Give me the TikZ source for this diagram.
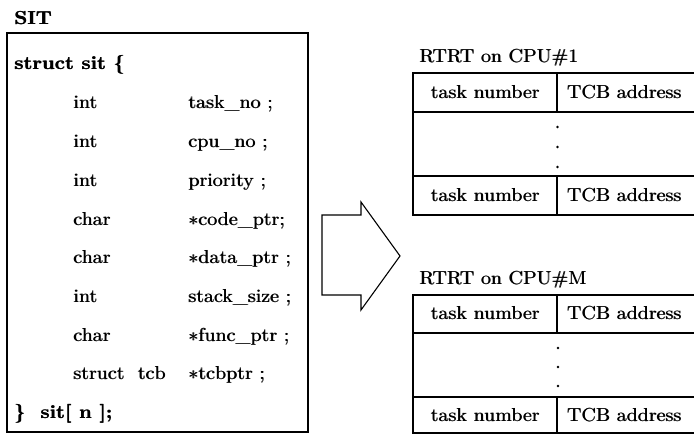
\documentclass[tikz,border=0pt]{standalone}
\usepackage{graphicx}
% small optical size of Latin Modern, enlarged; a second copy shifted a
% little to the right gives the heavier print weight
\newcommand\enl[1]{\scalebox{2.35}{\rlap{\kern0.25pt #1}#1}}
\begin{document}
\begin{tikzpicture}[x=1pt,y=-1pt,line join=miter,
  frame/.style={draw,line width=1.1pt},
  lbl/.style={inner sep=0pt,anchor=base west,font=\fontsize{8}{9.6}\selectfont},
  boldlbl/.style={lbl,font=\fontsize{8}{9.6}\selectfont\bfseries},
  cell/.style={inner sep=0pt,anchor=base,font=\fontsize{8}{9.6}\selectfont},
  tdot/.style={circle,fill,draw=none,inner sep=0pt,minimum size=2.8pt}]
\useasboundingbox (0,0) rectangle (694,435);
\clip (0,0) rectangle (694,435);

% ---- frames ----
% SIT box
\draw[frame] (7,33) rectangle (308,432);
% block arrow
\draw[frame] (322,215) -- (361,215) -- (361,202) -- (400,256) -- (361,310)
  -- (361,295) -- (322,295) -- cycle;
% table for CPU#1
\draw[frame] (413,73) rectangle (700,215);
\draw[frame] (413,112) -- (700,112) (413,176) -- (700,176);
\draw[frame] (557,73) -- (557,112) (557,176) -- (557,215);
% table for CPU#M
\draw[frame] (413,295) rectangle (700,433);
\draw[frame] (413,333) -- (700,333) (413,397) -- (700,397);
\draw[frame] (557,295) -- (557,333) (557,397) -- (557,433);

% ---- SIT structure text ----
\node[boldlbl] (sitT) at (14,25) {\enl{SIT}};
\node[boldlbl] (head) at (14,70) {\enl{struct sit \{}};
\foreach \ty/\fd [count=\i] in {
    int/{task\_no ;},
    int/{cpu\_no ;},
    int/{priority ;},
    char/{$\ast$code\_ptr;},
    char/{$\ast$data\_ptr ;},
    int/{stack\_size ;},
    char/{$\ast$func\_ptr ;},
    {struct \ tcb}/{$\ast$tcbptr ;}} {
  \pgfmathsetmacro\yy{109+38.7*(\i-1)}
  \node[lbl] (ty\i) at (73,\yy) {\enl{\ty}};
  \node[lbl] (fd\i) at (188,\yy) {\enl{\fd}};
}
\node[boldlbl] (tail) at (14,419) {\enl{\} \ sit[ n ];}};

% ---- RTRT on CPU#1 ----
\node[lbl] (t1) at (419,63) {\enl{RTRT on CPU\#1}};
\node[cell] (a1) at (485,99) {\enl{task number}};
\node[cell] (b1) at (624,99) {\enl{TCB address}};
\node[cell] (c1) at (485,202) {\enl{task number}};
\node[cell] (d1) at (624,202) {\enl{TCB address}};
\node[tdot] (p1) at (557.5,127) {};
\node[tdot] (q1) at (557.5,147) {};
\node[tdot] (r1) at (557.5,167) {};

% ---- RTRT on CPU#M ----
\node[lbl] (t2) at (419,285) {\enl{RTRT on CPU\#M}};
\node[cell] (a2) at (485,320) {\enl{task number}};
\node[cell] (b2) at (624,320) {\enl{TCB address}};
\node[cell] (c2) at (485,422) {\enl{task number}};
\node[cell] (d2) at (624,422) {\enl{TCB address}};
\node[tdot] (p2) at (558,348) {};
\node[tdot] (q2) at (558,367) {};
\node[tdot] (r2) at (558,386) {};
\end{tikzpicture}
\end{document}
